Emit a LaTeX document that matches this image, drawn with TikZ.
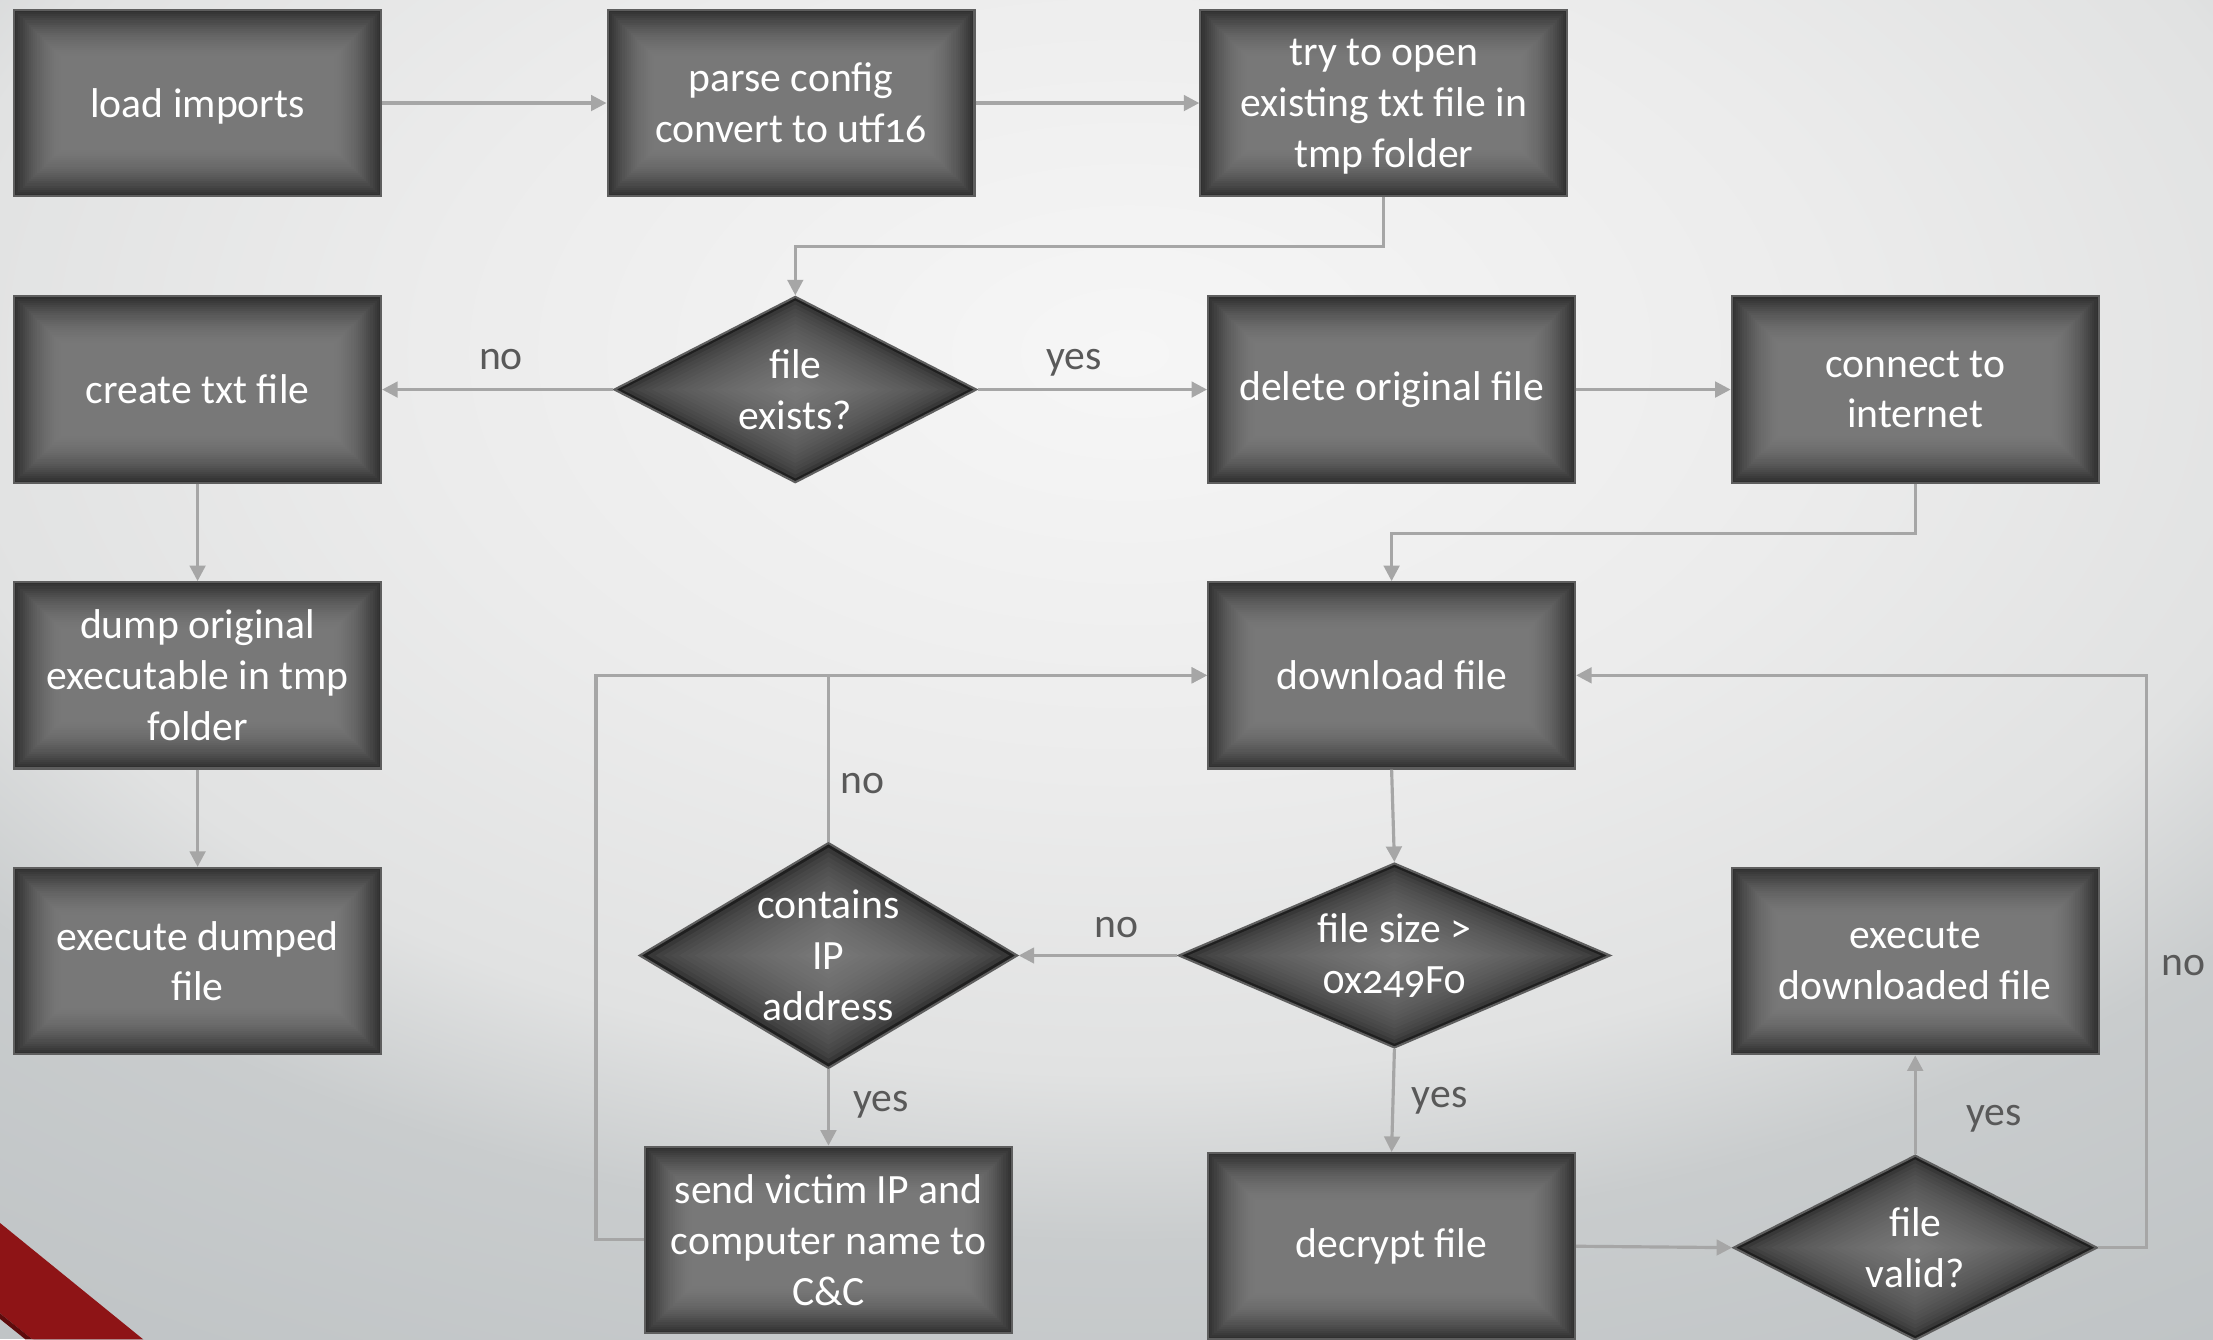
\documentclass[tikz,border=0pt]{standalone}
\usepackage{fontspec}
\setmainfont{Carlito}[Numbers=OldStyle]
\usetikzlibrary{shapes.geometric,arrows.meta,calc}

\definecolor{bgout}{HTML}{C0C4C6}
\definecolor{boxline}{HTML}{5E5E5E}
\definecolor{boxrim}{HTML}{333333}
\definecolor{flowgray}{HTML}{A6A6A6}
\definecolor{labelgray}{HTML}{595959}
\definecolor{bandred}{HTML}{8E1416}
\definecolor{banddark}{HTML}{5E0B0C}

% soft light backdrop
\pgfdeclareradialshading{bgshade}{\pgfpoint{0bp}{0bp}}{%
  rgb(0bp)=(0.965,0.965,0.965); rgb(8.9bp)=(0.925,0.925,0.925);
  rgb(15.2bp)=(0.882,0.886,0.886); rgb(18.75bp)=(0.788,0.8,0.804);
  rgb(24bp)=(0.757,0.773,0.78); rgb(25bp)=(0.753,0.769,0.776);
  rgb(50bp)=(0.753,0.769,0.776)}

\newcommand\flowfont{\fontsize{16.8pt}{20.5pt}\selectfont}
% a line whose descenders do not count for the box depth
\newcommand\nodepth[1]{\raisebox{0pt}[\height][0pt]{#1}}

\tikzset{
  % rectangular gradient: dark rim fading to mid grey inside
  rimbox/.style={path picture={
    \foreach \k in {0,...,23}{
      \pgfmathsetmacro\lev{0.19+0.28*(1-(1-\k/23)^1.8)}
      \definecolor{rimtone}{gray}{\lev}
      \fill[rimtone]
        ([shift={(\k*0.3mm,\k*0.3mm)}]path picture bounding box.south west) rectangle
        ([shift={(-\k*0.3mm,-\k*0.3mm)}]path picture bounding box.north east);
    }}},
  % diamond gradient: nested diamonds from dark tips to a light centre
  rimdia/.style={path picture={
    \foreach \k in {0,...,23}{
      \pgfmathsetmacro\sc{1-\k/24}
      \pgfmathsetmacro\lev{0.12+0.36*((1-\sc)^0.4)}
      \definecolor{rimtone}{gray}{\lev}
      \fill[rimtone]
        ($(path picture bounding box.center)!\sc!(path picture bounding box.east)$) --
        ($(path picture bounding box.center)!\sc!(path picture bounding box.north)$) --
        ($(path picture bounding box.center)!\sc!(path picture bounding box.west)$) --
        ($(path picture bounding box.center)!\sc!(path picture bounding box.south)$) -- cycle;
    }}}
}

\begin{document}
\begin{tikzpicture}[x=0.2mm,y=-0.2mm,
  procbox/.style={rectangle, fill=boxrim, rimbox, draw=boxline, line width=0.3mm,
    minimum width=52mm, minimum height=26.4mm, inner sep=0pt,
    text=white, align=center, font=\flowfont},
  decision/.style={diamond, fill=boxrim, rimdia, draw=boxline, line width=0.3mm, inner sep=0pt},
  dtext/.style={text=white, align=center, font=\flowfont, inner sep=0pt},
  flow/.style={draw=flowgray, line width=0.45mm, -{Triangle[length=2.2mm,width=2.2mm]}},
  lbl/.style={text=labelgray, font=\flowfont, inner sep=0pt}]

\useasboundingbox (0,0) rectangle (1568,949);
\clip (0,0) rectangle (1568,949);

% backdrop
\fill[bgout] (0,0) rectangle (1568,949);
\shade[shading=bgshade] (800,250) ellipse [x radius=280mm, y radius=168mm];

% red corner band
\fill[bandred] (0,866.5) -- (101.5,949) -- (23,949) -- (0,930.5) -- cycle;
\fill[banddark] (0,930.5) -- (23,949) -- (18,949) -- (0,934.5) -- cycle;

% process boxes
\node[procbox] (imp)    at (140,73)    {\nodepth{load imports}};
\node[procbox] (cfg)    at (560.5,73)  {parse config\\convert to utf16};
\node[procbox] (open)   at (980.5,73)  {try to open\\existing txt file in\\\nodepth{tmp folder}};
\node[procbox] (create) at (140,276)   {create txt file};
\node[procbox] (del)    at (986,276)   {delete original file};
\node[procbox] (net)    at (1357,276)  {connect to\\internet};
\node[procbox] (dump)   at (140,478.5) {dump original\\executable in tmp\\folder};
\node[procbox] (dl)     at (986,478.5) {download file};
\node[procbox] (exdump) at (140,681)   {execute dumped\\file};
\node[procbox] (exdl)   at (1357,681)  {execute\\downloaded file};
\node[procbox] (send)   at (587,878.5) {send victim IP and\\computer name to\\C\&C};
\node[procbox] (dec)    at (986,883)   {decrypt file};

% decisions
\node[decision, minimum width=51.4mm, minimum height=26.4mm] (exists) at (563.5,276) {};
\node[dtext] (exists-t) at (exists) {file\\exists?};
\node[decision, minimum width=53.6mm, minimum height=32mm] (ip) at (587,677) {};
\node[dtext] (ip-t) at (ip) {contains\\IP\\address};
\node[decision, minimum width=61.2mm, minimum height=26.2mm] (size) at (988,677) {};
\node[dtext] (size-t) at (size) {file size >\\0x249F0};
\node[decision, minimum width=51.6mm, minimum height=26.2mm] (valid) at (1357,884) {};
\node[dtext] (valid-t) at (valid) {file\\valid?};

% connectors
\draw[flow] (imp.east) -- (cfg.west);
\draw[flow] (cfg.east) -- (open.west);
\draw[flow] (open.south) -- ++(0,35) -| (exists.north);
\draw[flow] (exists.west) -- (create.east);
\draw[flow] (exists.east) -- (del.west);
\draw[flow] (del.east) -- (net.west);
\draw[flow] (net.south) -- ++(0,35) -| (dl.north);
\draw[flow] (create.south) -- (dump.north);
\draw[flow] (dump.south) -- (exdump.north);
\draw[flow] (dl.south) -- (size.north);
\draw[flow] (size.west) -- (ip.east);
\draw[flow] (ip.north) |- (dl.west);
\draw[flow] (ip.south) -- (send.north);
\draw[flow] (send.west) -- ++(-34,0) |- (dl.west);
\draw[flow] (size.south) -- (dec.north);
\draw[flow] (dec.east) -- (valid.west);
\draw[flow] (valid.north) -- (exdl.south);
\draw[flow] (valid.east) -- ++(34,0) |- (dl.east);

% branch labels
\node[lbl] (l-no1)  at (355,255)  {no};
\node[lbl] (l-yes1) at (761,257)  {yes};
\node[lbl] (l-no2)  at (611,555)  {no};
\node[lbl] (l-no3)  at (791,657)  {no};
\node[lbl] (l-yes2) at (624,783)  {yes};
\node[lbl] (l-yes3) at (1020,780) {yes};
\node[lbl] (l-yes4) at (1413,793) {yes};
\node[lbl] (l-no4)  at (1547,684) {no};

\end{tikzpicture}
\end{document}
